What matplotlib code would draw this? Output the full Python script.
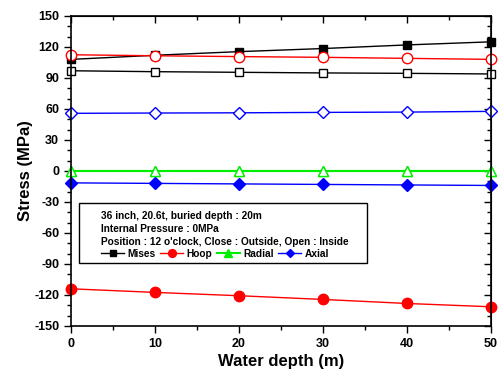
import numpy as np
import matplotlib.pyplot as plt
from matplotlib.ticker import MultipleLocator
from matplotlib.patches import Rectangle

plt.rcParams['font.family'] = ['Liberation Sans', 'DejaVu Sans']
plt.rcParams['font.weight'] = 'bold'
plt.rcParams['axes.unicode_minus'] = False

# Water depth (m)
depth = [0, 10, 20, 30, 40, 50]

# Close : Outside (filled markers)
mises_out = [108, 112, 115.5, 118.5, 122, 125]
hoop_out = [-114, -117.5, -120.7, -124.3, -128.2, -131.4]
radial_out = [0, 0, 0, 0, 0, 0]
axial_out = [-11.5, -12, -12.5, -13, -13.5, -14]

# Open : Inside (open markers)
mises_in = [97, 96.1, 95.5, 94.9, 94.5, 93.9]
hoop_in = [112.5, 111.5, 110.7, 110, 109, 108]
radial_in = [0, 0, 0, 0, 0, 0]
axial_in = [55.8, 56.1, 56.3, 56.7, 57, 57.7]

fig = plt.figure(figsize=(5.01, 3.71), dpi=100)
ax = fig.add_axes([0.1417, 0.1213, 0.8383, 0.8356])

# filled series
h1, = ax.plot(depth, mises_out, color='black', marker='s', ms=6, lw=1, label='Mises', clip_on=False)
h2, = ax.plot(depth, hoop_out, color='red', marker='o', ms=7.5, lw=1, label='Hoop', clip_on=False)
h3, = ax.plot(depth, radial_out, color='#00ee00', marker='^', ms=7, lw=1.5, label='Radial', clip_on=False)
h4, = ax.plot(depth, axial_out, color='blue', marker='D', ms=6, lw=1, label='Axial', clip_on=False)

# open series
ax.plot(depth, mises_in, color='black', marker='s', ms=6, lw=1, mfc='white', clip_on=False)
ax.plot(depth, hoop_in, color='red', marker='o', ms=7.5, lw=1, mfc='white', clip_on=False)
ax.plot(depth, radial_in, color='#00ee00', marker='^', ms=7, lw=1.5, mfc='white', clip_on=False)
ax.plot(depth, axial_in, color='blue', marker='D', ms=6, lw=1, mfc='white', clip_on=False)

ax.set_xlim(0, 50)
ax.set_ylim(-150, 150)
ax.xaxis.set_major_locator(MultipleLocator(10))
ax.xaxis.set_minor_locator(MultipleLocator(5))
ax.yaxis.set_major_locator(MultipleLocator(30))
ax.yaxis.set_minor_locator(MultipleLocator(10))

ax.tick_params(axis='both', which='both', direction='out', labelsize=9, width=1)
ax.tick_params(which='major', length=5)
ax.tick_params(which='minor', length=3)
for spine in ax.spines.values():
    spine.set_linewidth(1.2)

# top and right ticks point inward
ax2 = ax.secondary_xaxis('top')
ax2.xaxis.set_major_locator(MultipleLocator(10))
ax2.xaxis.set_minor_locator(MultipleLocator(5))
ax2.tick_params(which='both', direction='in', labeltop=False, width=1)
ax2.tick_params(which='major', length=5)
ax2.tick_params(which='minor', length=3)
ay2 = ax.secondary_yaxis('right')
ay2.yaxis.set_major_locator(MultipleLocator(30))
ay2.yaxis.set_minor_locator(MultipleLocator(10))
ay2.tick_params(which='both', direction='in', labelright=False, width=1)
ay2.tick_params(which='major', length=5)
ay2.tick_params(which='minor', length=3)

ax.set_xlabel('Water depth (m)', fontsize=12, fontweight='bold', labelpad=3)
ax.set_ylabel('Stress (MPa)', fontsize=12, fontweight='bold', labelpad=1)

# legend frame
ax.add_patch(Rectangle((0.019, 0.202), 0.685, 0.196, transform=ax.transAxes,
                       fill=True, facecolor='white', edgecolor='black', lw=1, zorder=4))

leg = ax.legend(handles=[h1, h2, h3, h4], ncol=4, loc='upper left',
                bbox_to_anchor=(0.0714, 0.37),
                title="36 inch, 20.6t, buried depth : 20m\nInternal Pressure : 0MPa\n"
                      "Position : 12 o'clock, Close : Outside, Open : Inside",
                alignment='left', fontsize=7.3, title_fontproperties={'size': 7.3, 'weight': 'bold'},
                frameon=False, borderpad=0, borderaxespad=0,
                handlelength=2.3, handletextpad=0.3, columnspacing=0.45,
                labelspacing=0.2, markerscale=0.75)
leg.set_zorder(5)
leg.get_title().set_linespacing(1.38)
leg._legend_box.sep = 1

fig.savefig('out.png', dpi=100)
